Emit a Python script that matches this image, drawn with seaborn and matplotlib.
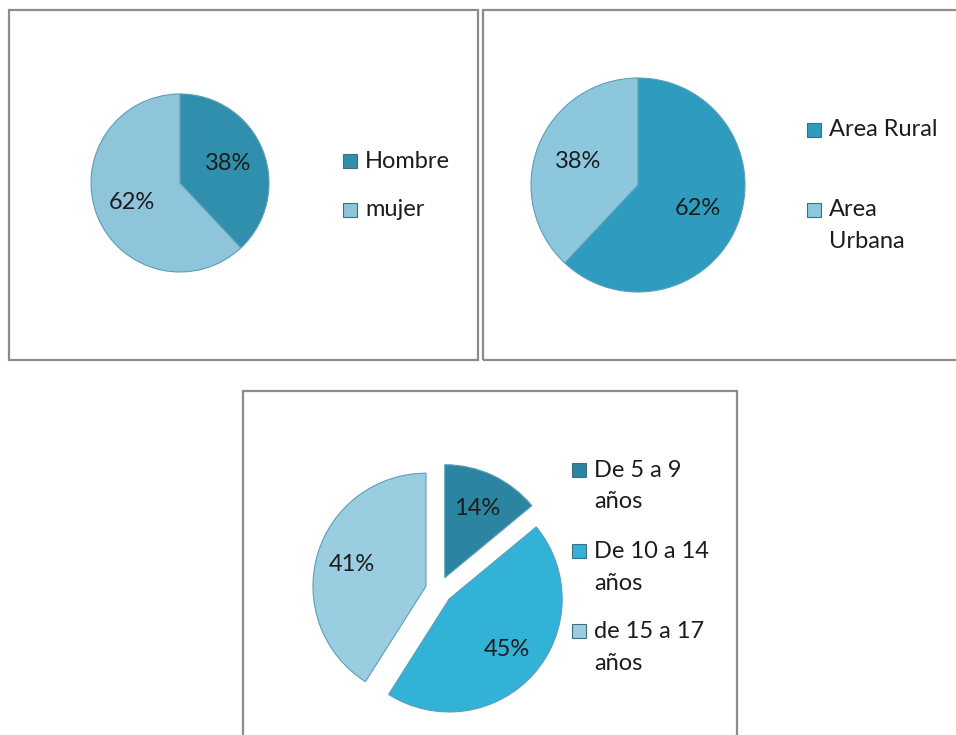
"""
Three pie charts: sexo, area de residencia y grupos de edad.
"""

import matplotlib.pyplot as plt
from matplotlib.patches import Rectangle
import seaborn as sns

# data
sexo_labels = ['Hombre', 'mujer']
sexo_values = [38, 62]
sexo_colors = ['#2f8fad', '#8fc5da']

area_labels = ['Area Rural', 'Area\nUrbana']
area_values = [62, 38]
area_colors = ['#2e9bbf', '#8cc7dd']

edad_labels = ['De 5 a 9\naños', 'De 10 a 14\naños', 'de 15 a 17\naños']
edad_values = [14, 45, 41]
edad_colors = ['#2b84a1', '#33b2d8', '#9bcde1']

W, H = 956, 735
sns.set_style('white')
plt.rcParams['font.family'] = ['Lato', 'DejaVu Sans']
TEXT = '#1c1c1c'
FS = 17

fig = plt.figure(figsize=(W / 100, H / 100), dpi=100)


def px_box(x0, y0, x1, y1):
    """Figure-fraction box from pixel corners (y from top)."""
    return [x0 / W, 1 - y1 / H, (x1 - x0) / W, (y1 - y0) / H]


def draw_border(x0, y0, x1, y1):
    l, b, w, h = px_box(x0, y0, x1, y1)
    fig.patches.append(Rectangle((l, b), w, h, transform=fig.transFigure,
                                 fill=False, edgecolor='#8c8c8c', linewidth=1.6))


def draw_pie(cx, cy, r, values, colors, pctdist, explode=None, pad=1.02):
    ax = fig.add_axes(px_box(cx - r * pad, cy - r * pad, cx + r * pad, cy + r * pad))
    ax.pie(values, colors=colors, startangle=90, counterclock=False,
           explode=explode, autopct='%d%%', pctdistance=pctdist,
           wedgeprops=dict(edgecolor='#5a9fb8', linewidth=0.8),
           textprops=dict(fontsize=FS, color=TEXT))
    ax.set_xlim(-pad, pad)
    ax.set_ylim(-pad, pad)
    ax.set_aspect('equal')
    ax.axis('off')
    return ax


def draw_legend(x, ys, labels, colors, line_h=31):
    for y, lab, col in zip(ys, labels, colors):
        l, b, w, h = px_box(x, y - 7, x + 14, y + 7)
        fig.patches.append(Rectangle((l, b), w, h, transform=fig.transFigure,
                                     facecolor=col, edgecolor='#3d6f80', linewidth=0.8))
        for i, line in enumerate(lab.split('\n')):
            fig.text((x + 22) / W, 1 - (y + i * line_h) / H, line,
                     fontsize=FS, color=TEXT, va='center', ha='left')


# panel borders
draw_border(9, 10, 478, 360)
draw_border(483, 10, 962, 360)
draw_border(243, 391, 737, 742)

# panel 1: sexo
draw_pie(180, 183, 89, sexo_values, sexo_colors, 0.58)
draw_legend(343, [161, 210], sexo_labels, sexo_colors)

# panel 2: area
draw_pie(638, 185, 107, area_values, area_colors, 0.6)
draw_legend(807, [130, 210], area_labels, area_colors)

# panel 3: edad (exploded)
draw_pie(439, 590, 113, edad_values, edad_colors, 0.68,
         explode=[0.12, 0.12, 0.12], pad=1.16)
draw_legend(572, [470, 551, 631], edad_labels, edad_colors, line_h=32)

plt.savefig('out.png', dpi=100)
plt.close()
